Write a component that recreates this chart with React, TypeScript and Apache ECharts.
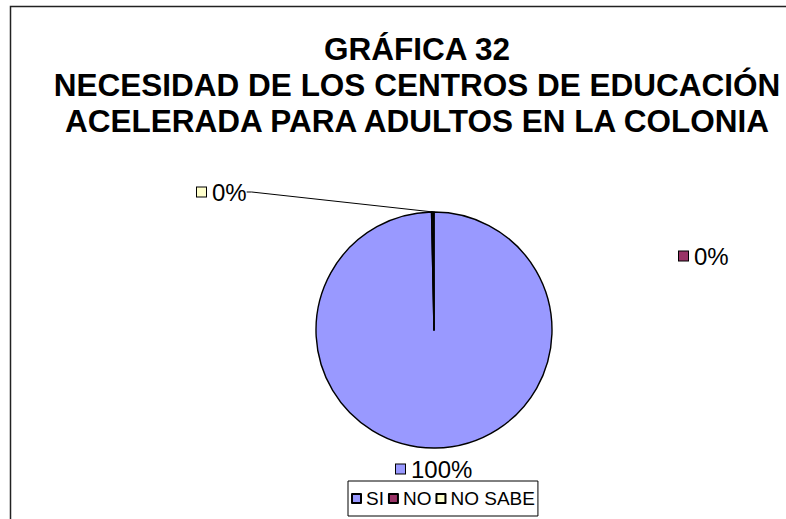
import React, { useEffect, useRef } from "react";
import * as echarts from "echarts";

const categories = ["SI", "NO", "NO SABE"];
const values = [100, 0, 0];
const colors = ["#9999FF", "#993366", "#FFFFCC"];
const titleLines = [
  "GRÁFICA 32",
  "NECESIDAD DE LOS CENTROS DE EDUCACIÓN",
  "ACELERADA PARA ADULTOS EN LA COLONIA",
];

const FONT = "'Liberation Sans', Arial, sans-serif";

export default function App() {
  const ref = useRef<HTMLDivElement>(null);
  useEffect(() => {
    document.body.style.margin = "0";
    if (!ref.current) return;
    const chart = echarts.init(ref.current, null, { renderer: "svg" });
    const labelPos = [
      [396, 469],
      [679, 256],
      [197, 192],
    ];
    const rich: any = {
      t: { fontSize: 24, fontFamily: FONT, color: "#000", padding: [0, 0, 0, 6] },
    };
    colors.forEach((c, i) => {
      rich["b" + i] = {
        width: 9,
        height: 9,
        backgroundColor: c,
        borderColor: "#000",
        borderWidth: 1,
      };
    });
    chart.setOption({
      animation: false,
      backgroundColor: "#fff",
      title: {
        text: titleLines.join("\n"),
        left: 412,
        top: 26,
        textAlign: "center",
        textStyle: {
          fontSize: 31.5,
          fontWeight: "bold",
          fontFamily: FONT,
          color: "#000",
          lineHeight: 36,
        },
      },
      graphic: [
        {
          type: "rect",
          z: -1,
          shape: { x: 10.5, y: 6.5, width: 900, height: 700 },
          style: { fill: "none", stroke: "#222", lineWidth: 1.5 },
        },
      ],
      legend: {
        data: categories,
        left: 348,
        bottom: 3,
        icon: "rect",
        itemWidth: 9,
        itemHeight: 9,
        itemGap: 4,
        padding: [8, 3, 8, 3],
        borderColor: "#000",
        borderWidth: 1,
        textStyle: { fontSize: 19, fontFamily: FONT, color: "#000" },
      },
      series: [
        {
          type: "pie",
          center: [434, 330],
          radius: 118,
          startAngle: 90,
          clockwise: true,
          minAngle: 0.6,
          avoidLabelOverlap: false,
          itemStyle: { borderColor: "#000", borderWidth: 1.4 },
          label: {
            show: true,
            position: "outside",
            formatter: (p: any) => `{b${p.dataIndex}|}{t|${Math.round(p.percent)}%}`,
            rich,
          },
          labelLine: { show: false, lineStyle: { color: "#000", width: 1 } },
          labelLayout: (p: any) => ({
            x: labelPos[p.dataIndex][0],
            y: labelPos[p.dataIndex][1],
            align: "left",
            verticalAlign: "middle",
          }),
          data: categories.map((name, i) => ({
            name,
            value: values[i],
            itemStyle: { color: colors[i] },
            labelLine: { show: i === 2, length: 5, length2: 5 },
          })),
        },
      ],
    });
    return () => chart.dispose();
  }, []);
  return <div ref={ref} style={{ width: 786, height: 519 }} />;
}
